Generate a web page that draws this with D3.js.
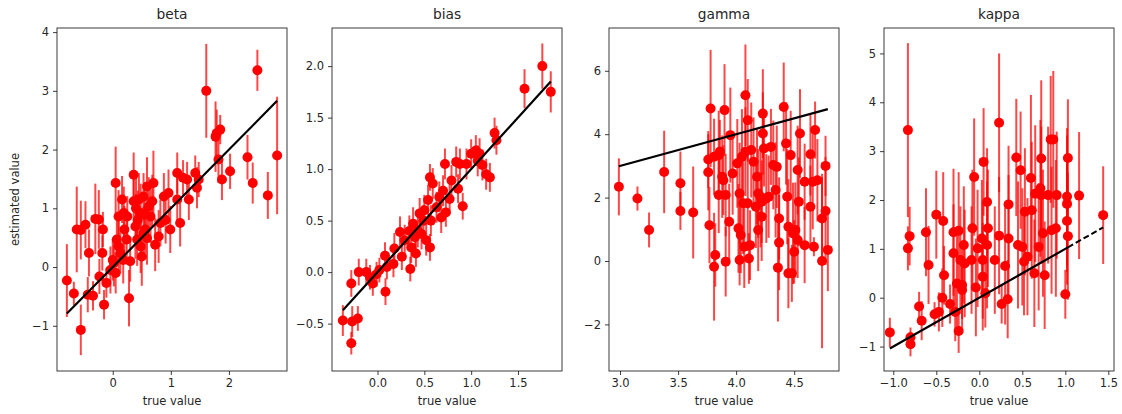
<!DOCTYPE html>
<html>
<head>
<meta charset="utf-8">
<script src="https://cdn.jsdelivr.net/npm/d3@7"></script>
<style>
  body { margin: 0; background: #fff; }
  svg { font-family: "DejaVu Sans", sans-serif; }
</style>
</head>
<body>
<svg width="1122" height="414"></svg>
<script>
// ---- data ----
const panelNames = ["beta", "bias", "gamma", "kappa"];

const betaTrue = [-0.79, -0.67, -0.55, -0.62, -0.55, -0.47, -0.41, -0.43, -0.34, -0.30, -0.24, -0.17, -0.18, -0.23, -0.15, -0.11,
  0.05, 0.00, 0.05, 0.07, 0.10, 0.16, 0.19, 0.13, 0.20, 0.25, 0.24, 0.28, 0.30, 0.18, 0.36, 0.36, 0.39, 0.42, 0.48, 0.50,
  0.45, 0.53, 0.59, 0.62, 0.65, 0.70, 0.68, 0.59, 0.56, 0.73, 0.79, 0.82, 0.88, 0.91, 0.96, 0.99, 1.11, 1.11, 1.16, 1.21,
  1.31, 1.28, 1.42, 1.45, 1.48, 1.61, 1.77, 1.79, 1.85, 1.82, 1.88, 2.02, 2.32, 2.41, 2.49, 2.67, 2.83,
  -0.04, 0.02, 0.10, 0.48, 0.53, 0.43, 0.40, 0.55];
const betaEst = [-0.23, -0.45, -1.07, 0.64, 0.63, 0.72, 0.24, -0.47, -0.49, 0.82, 0.81, 0.64, 0.24, -0.16, -0.64, -0.27,
  1.43, 0.12, -0.10, 0.47, 0.86, 1.15, 0.92, 0.24, 0.64, 0.86, 0.47, -0.53, 0.10, 0.12, 1.57, 1.12, 0.69, 0.47, 0.92, 0.18,
  1.15, 1.20, 1.37, 1.03, 0.86, 1.43, 1.12, 0.49, 0.64, 0.38, 0.52, 0.75, 1.20, 0.80, 1.26, 0.64, 1.60, 1.15, 0.75, 1.52,
  1.15, 1.49, 1.60, 1.35, 1.49, 3.00, 2.22, 2.28, 2.34, 1.83, 1.49, 1.63, 1.87, 1.43, 3.35, 1.22, 1.90,
  -0.05, 0.07, 0.35, 0.35, 0.58, 0.80, 1.00, 0.90];
const betaErr = [0.62, 0.20, 0.43, 0.73, 0.50, 0.40, 0.40, 0.30, 0.25, 0.60, 0.50, 0.30, 0.30, 0.30, 0.25, 0.25,
  0.62, 0.35, 0.35, 0.45, 0.45, 0.40, 0.45, 0.35, 0.40, 0.35, 0.40, 0.48, 0.35, 0.40, 0.38, 0.45, 0.55, 0.45, 0.50, 0.50,
  0.45, 0.40, 0.50, 0.50, 0.45, 0.55, 0.45, 0.45, 0.40, 0.45, 0.45, 0.40, 0.40, 0.40, 0.40, 0.40, 0.35, 0.40, 0.40, 0.30,
  0.35, 0.30, 0.30, 0.35, 0.30, 0.80, 0.60, 0.40, 0.25, 0.40, 0.35, 0.30, 0.38, 0.35, 0.35, 0.40, 1.00,
  0.40, 0.40, 0.50, 0.45, 0.45, 0.50, 0.55, 0.45];

const biasTrue = [-0.37, -0.28, -0.28, -0.27, -0.21, -0.20, -0.12, -0.08, -0.05, -0.01, 0.02, 0.08, 0.085, 0.10, 0.17, 0.18,
  0.24, 0.26, 0.29, 0.34, 0.35, 0.36, 0.38, 0.40, 0.41, 0.43, 0.45, 0.47, 0.49, 0.50, 0.52, 0.54, 0.56, 0.56, 0.59, 0.57,
  0.63, 0.66, 0.68, 0.70, 0.72, 0.73, 0.77, 0.79, 0.84, 0.86, 0.88, 0.91, 0.95, 1.00, 1.05, 1.07, 1.09, 1.12, 1.16, 1.20,
  1.25, 1.27, 1.57, 1.76, 1.85];
const biasEst = [-0.47, -0.11, -0.69, -0.48, -0.45, 0.00, 0.00, -0.05, -0.11, -0.02, 0.02, 0.16, -0.19, 0.05, 0.08, 0.23,
  0.39, 0.15, 0.31, 0.40, 0.03, 0.24, 0.47, 0.34, 0.18, 0.40, 0.57, 0.37, 0.50, 0.60, 0.31, 0.70, 0.24, 0.92, 0.86, 0.50,
  0.63, 0.73, 0.53, 0.79, 1.05, 0.58, 0.71, 0.89, 1.07, 0.81, 1.05, 0.64, 1.05, 1.15, 1.18, 1.08, 1.15, 1.04, 0.95, 0.92,
  1.35, 1.28, 1.78, 2.00, 1.75];
const biasErr = [0.15, 0.13, 0.11, 0.15, 0.12, 0.13, 0.13, 0.12, 0.12, 0.12, 0.12, 0.13, 0.13, 0.12, 0.13, 0.15,
  0.15, 0.13, 0.15, 0.15, 0.12, 0.15, 0.16, 0.15, 0.13, 0.16, 0.15, 0.15, 0.15, 0.15, 0.15, 0.15, 0.13, 0.13, 0.15, 0.15,
  0.15, 0.15, 0.15, 0.15, 0.15, 0.14, 0.14, 0.15, 0.15, 0.14, 0.15, 0.13, 0.15, 0.14, 0.15, 0.15, 0.15, 0.15, 0.15, 0.14,
  0.15, 0.14, 0.19, 0.22, 0.20];

const gammaTrue = [2.99, 3.15, 3.25, 3.38, 3.52, 3.52, 3.63, 3.76, 3.76, 3.77, 3.78, 3.81, 3.81, 3.82, 3.85, 3.85, 3.86,
  3.88, 3.89, 3.90, 3.91, 3.91, 3.94, 3.95, 3.97, 4.01, 4.02, 4.03, 4.03, 4.04, 4.05, 4.06, 4.07, 4.08, 4.08, 4.10, 4.10,
  4.11, 4.12, 4.13, 4.15, 4.17, 4.18, 4.19, 4.19, 4.21, 4.22, 4.22, 4.23, 4.23, 4.24, 4.26, 4.28, 4.30, 4.32, 4.34, 4.35,
  4.36, 4.37, 4.37, 4.41, 4.43, 4.44, 4.45, 4.45, 4.47, 4.48, 4.49, 4.50, 4.51, 4.53, 4.53, 4.54, 4.55, 4.59, 4.59, 4.64,
  4.64, 4.66, 4.67, 4.68, 4.70, 4.74, 4.74, 4.77, 4.77, 4.79];
const gammaEst = [2.34, 1.97, 0.98, 2.81, 2.45, 1.58, 1.53, 3.20, 2.80, 1.13, 4.81, 3.29, -0.18, 0.19, 3.34, 2.08, 3.45,
  2.66, 2.55, 4.76, -0.02, 2.08, 1.24, 3.97, 2.76, 3.08, 1.03, 0.03, 2.13, 0.82, 3.29, 1.82, 0.45, 5.23, 3.45, 4.44, 1.82,
  0.08, 0.50, 3.50, 3.13, 1.71, 2.66, 2.13, 0.98, 2.03, 1.87, 1.40, 4.65, 4.02, 3.55, 1.97, 2.03, 3.60, 3.03, 2.24, 2.97,
  -0.21, 1.34, 0.58, 4.86, 3.71, 2.03, -0.39, 1.08, 3.34, -0.39, 0.87, 0.29, 0.98, 0.66, 2.87, 1.87, 4.02, 0.50, 2.50, 1.71,
  3.37, 2.50, 0.45, 4.13, 2.55, 1.34, 0.00, 3.00, 1.58, 0.35];
const gammaErr = [0.90, 0.38, 0.55, 1.30, 1.00, 0.60, 1.45, 0.90, 1.20, 1.20, 1.85, 1.20, 1.70, 1.00, 1.40, 1.20, 1.00,
  1.30, 1.10, 1.45, 1.10, 1.30, 1.20, 1.50, 1.30, 1.40, 1.40, 0.80, 1.60, 1.20, 1.50, 1.60, 1.30, 1.60, 1.40, 1.30, 1.50,
  0.80, 1.10, 1.50, 1.40, 1.30, 1.50, 1.40, 1.30, 1.60, 1.30, 1.40, 1.40, 1.30, 1.20, 1.40, 1.30, 1.20, 1.40, 1.50, 1.30,
  1.70, 1.30, 1.50, 1.40, 1.30, 1.50, 1.10, 1.50, 1.40, 0.90, 1.60, 1.00, 1.50, 1.20, 1.40, 1.40, 1.40, 1.20, 1.20, 1.30,
  1.30, 1.50, 0.30, 0.90, 1.30, 1.30, 2.75, 0.95, 1.70, 1.30];

const kappaTrue = [-1.04, -0.83, -0.83, -0.81, -0.80, -0.80, -0.70, -0.67, -0.62, -0.59, -0.52, -0.50, -0.47, -0.42, -0.41,
  -0.43, -0.34, -0.30, -0.30, -0.28, -0.26, -0.24, -0.24, -0.22, -0.20, -0.20, -0.18, -0.17, -0.09, -0.08, -0.06, -0.04,
  -0.02, 0.03, 0.04, 0.04, 0.05, 0.07, 0.09, 0.09, 0.10, 0.18, 0.23, 0.23, 0.26, 0.30, 0.33, 0.34, 0.34, 0.43, 0.45, 0.48,
  0.50, 0.52, 0.53, 0.56, 0.60, 0.61, 0.64, 0.65, 0.69, 0.71, 0.72, 0.72, 0.74, 0.76, 0.80, 0.83, 0.86, 0.84, 0.89, 0.90,
  1.00, 1.02, 1.02, 1.02, 1.03, 1.03, 1.16, 1.44];
const kappaEst = [-0.71, 3.43, 1.01, 1.26, -0.81, -0.95, -0.18, -0.47, 1.34, 0.67, -0.34, 1.70, -0.29, 1.57, 0.46, 0.00,
  -0.13, 1.34, 0.91, -0.29, 0.29, -0.68, 1.37, 0.77, 0.26, 0.16, 1.08, 0.70, 0.77, 1.42, 2.47, 0.21, 1.01, 1.21, 0.43, 0.77,
  2.78, 0.09, 1.08, 1.96, 1.42, 0.77, 3.58, 1.27, -0.13, 0.65, -0.03, 1.21, 1.91, 2.87, 1.08, 2.61, 1.04, 0.74, 1.76, 0.84,
  2.45, 1.79, 0.50, 2.13, 1.04, 2.24, 2.85, 2.10, 1.32, 0.46, 2.10, 3.24, 3.24, 1.38, 1.42, 2.10, 0.07, 2.07, 1.57, 1.92,
  1.26, 2.86, 2.09, 1.69];
const kappaErr = [0.30, 1.78, 0.45, 0.60, 0.20, 0.25, 0.30, 0.40, 0.90, 0.80, 0.25, 0.90, 0.40, 1.00, 0.60, 0.60, 0.40,
  1.30, 1.00, 0.60, 1.00, 0.45, 1.20, 1.10, 0.90, 0.60, 1.20, 1.10, 1.10, 1.20, 1.20, 1.00, 1.20, 1.20, 1.10, 1.20, 1.10,
  0.70, 1.30, 1.10, 1.20, 1.10, 1.42, 1.20, 0.40, 1.20, 0.80, 1.30, 1.20, 1.20, 1.30, 1.20, 1.20, 1.10, 1.30, 1.20, 1.70,
  1.40, 1.10, 1.40, 1.30, 1.40, 1.60, 1.40, 1.30, 1.10, 1.40, 1.30, 1.40, 1.30, 1.40, 1.30, 0.50, 1.40, 1.30, 1.40, 1.30,
  1.20, 1.30, 1.00];

// axis ranges and ticks per panel
const xDomains = [[-0.96, 3.0], [-0.486, 1.97], [2.905, 4.886], [-1.108, 1.566]];
const yDomains = [[-1.77, 4.07], [-0.96, 2.37], [-3.47, 7.35], [-1.5, 5.52]];
const xTicks = [[0, 1, 2], [0, 0.5, 1, 1.5], [3, 3.5, 4, 4.5], [-1, -0.5, 0, 0.5, 1, 1.5]];
const yTicks = [[-1, 0, 1, 2, 3, 4], [-0.5, 0, 0.5, 1, 1.5, 2], [-2, 0, 2, 4, 6], [-1, 0, 1, 2, 3, 4, 5]];
const tickFormats = [".0f", ".1f", ".1f", ".1f"];
const yTickFormats = [".0f", ".1f", ".0f", ".0f"];

const panelData = [
  [betaTrue, betaEst, betaErr],
  [biasTrue, biasEst, biasErr],
  [gammaTrue, gammaEst, gammaErr],
  [kappaTrue, kappaEst, kappaErr],
];

// ---- layout ----
const svg = d3.select("svg");
const panelLeft = [57, 332, 609, 884];
const panelW = 230;
const plotTop = 28, plotBottom = 371;
const TEXT = "#262626";
const minus = (s) => s.replace("-", "\u2212");

panelNames.forEach((name, i) => {
  const [xs, ys, es] = panelData[i];
  const pts = xs.map((x, k) => ({ x, y: ys[k], e: es[k] }));

  const x = d3.scaleLinear().domain(xDomains[i]).range([panelLeft[i], panelLeft[i] + panelW]);
  const y = d3.scaleLinear().domain(yDomains[i]).range([plotBottom, plotTop]);

  const g = svg.append("g");

  // error bars
  g.selectAll(".bar")
    .data(pts)
    .enter()
    .append("line")
    .attr("x1", (d) => x(d.x))
    .attr("x2", (d) => x(d.x))
    .attr("y1", (d) => y(d.y - d.e))
    .attr("y2", (d) => y(d.y + d.e))
    .attr("stroke", "red")
    .attr("stroke-opacity", 0.72)
    .attr("stroke-width", 2);

  // markers
  g.selectAll(".dot")
    .data(pts)
    .enter()
    .append("circle")
    .attr("cx", (d) => x(d.x))
    .attr("cy", (d) => y(d.y))
    .attr("r", 5)
    .attr("fill", "red");

  // identity line (true == estimated)
  const sorted = xs.slice().sort(d3.ascending);
  const lo = sorted[0], hi = sorted[sorted.length - 1];
  const solidEnd = name === "kappa" ? sorted[sorted.length - 3] : hi;
  g.append("line")
    .attr("x1", x(lo)).attr("y1", y(lo))
    .attr("x2", x(solidEnd)).attr("y2", y(solidEnd))
    .attr("stroke", "black").attr("stroke-width", 2.2);
  if (solidEnd < hi) {
    g.append("line")
      .attr("x1", x(solidEnd)).attr("y1", y(solidEnd))
      .attr("x2", x(hi)).attr("y2", y(hi))
      .attr("stroke", "black").attr("stroke-width", 2)
      .attr("stroke-dasharray", "6,3");
  }

  // axes
  const xAxis = d3.axisBottom(x).tickValues(xTicks[i]).tickSize(4).tickPadding(4)
    .tickFormat((v) => minus(d3.format(tickFormats[i])(v)));
  const yAxis = d3.axisLeft(y).tickValues(yTicks[i]).tickSize(4).tickPadding(4)
    .tickFormat((v) => minus(d3.format(yTickFormats[i])(v)));

  const gx = svg.append("g").attr("transform", `translate(0,${plotBottom})`).call(xAxis);
  const gy = svg.append("g").attr("transform", `translate(${panelLeft[i]},0)`).call(yAxis);
  [gx, gy].forEach((a) => {
    a.select(".domain").remove();
    a.selectAll("line").attr("stroke", TEXT).attr("stroke-width", 0.9);
    a.selectAll("text").attr("fill", TEXT).style("font-size", "11.5px")
      .style("font-family", "DejaVu Sans, sans-serif");
  });

  // frame
  svg.append("rect")
    .attr("x", panelLeft[i]).attr("y", plotTop)
    .attr("width", panelW).attr("height", plotBottom - plotTop)
    .attr("fill", "none").attr("stroke", TEXT).attr("stroke-width", 0.9);

  // title and x label
  svg.append("text")
    .attr("x", panelLeft[i] + panelW / 2).attr("y", 19)
    .attr("text-anchor", "middle").attr("fill", TEXT)
    .style("font-size", "13.8px").text(name);

  svg.append("text")
    .attr("x", panelLeft[i] + panelW / 2).attr("y", 405)
    .attr("text-anchor", "middle").attr("fill", TEXT)
    .style("font-size", "11.5px").text("true value");
});

svg.append("text")
  .attr("transform", `translate(19,${(plotTop + plotBottom) / 2}) rotate(-90)`)
  .attr("text-anchor", "middle").attr("fill", TEXT)
  .style("font-size", "11.5px").text("estimated value");
</script>
</body>
</html>
